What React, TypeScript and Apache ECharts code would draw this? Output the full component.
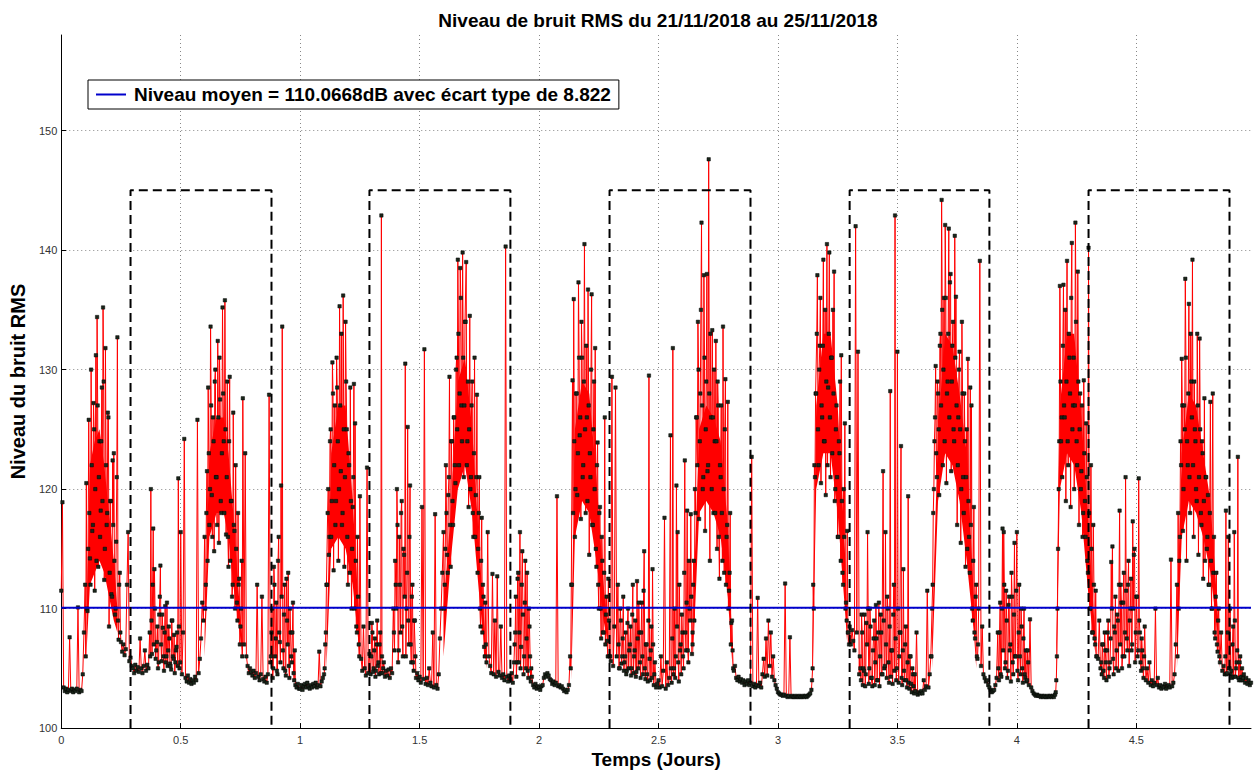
import React, { useEffect, useRef } from "react";
import * as echarts from "echarts";

// Sampling step (days) and RMS levels (dB), one array per day
const STEP = 0.005;
const day0 = [
  111.5, 118.9, 103.4, 103.1, 103.3, 103.0, 103.2, 107.6, 103.1, 103.3,
  103.0, 103.2, 103.1, 103.3, 110.1, 103.0, 103.2, 103.1, 104.5, 108.0,
  112.0, 120.5, 109.8, 125.8, 114.2, 130.0, 116.5, 127.2, 111.5, 131.2,
  134.4, 113.5, 124.0, 118.2, 128.5, 135.2, 112.4, 131.8, 117.0, 126.4,
  108.5, 119.0, 111.2, 122.4, 123.0, 109.5, 115.6, 132.7, 107.4, 113.0,
  107.2, 106.4, 107.0, 106.1, 106.6, 112.0, 116.4, 105.6, 105.9, 105.2,
  105.0, 104.6, 105.3, 104.8, 105.1, 104.7, 107.5, 105.0, 104.6, 105.2,
  106.5, 104.8, 105.3, 105.0, 108.0, 120.0, 106.2, 116.7, 113.3, 105.8,
  107.2, 105.0, 109.5, 113.6, 105.6, 108.4, 104.8, 110.2, 106.0, 105.2,
  108.5, 105.4, 104.9, 109.0, 105.8, 104.6, 106.5, 108.0, 120.9, 105.0,
  116.4, 104.5, 108.0, 124.2, 104.2, 103.9, 104.4, 103.8, 104.1, 103.7,
  104.0, 103.8, 104.3, 104.0, 125.8, 104.6, 105.8, 107.5, 110.5, 109.0,
  116.0, 112.0, 121.5, 128.5, 117.0, 133.6, 119.5, 126.0, 114.8, 130.0,
  121.0, 132.4, 115.5, 127.5, 118.0, 135.2, 124.0, 135.8, 116.2, 129.0,
  113.5, 129.4, 119.0, 111.0, 126.4, 116.5, 122.0, 110.5, 118.0, 112.5,
  108.5, 114.0, 127.6, 107.0, 123.0, 106.0, 105.2, 104.6, 105.0, 104.7,
  104.4, 104.8, 104.2, 104.6, 112.0, 104.3, 104.0, 104.5, 111.0, 104.1,
  103.9, 104.3, 103.8, 104.5, 127.9, 105.5, 108.0, 104.2, 113.5, 106.0,
  110.5, 104.5, 116.0, 107.2, 120.3, 133.6, 105.0, 112.0, 104.4, 109.0,
  113.0, 104.2, 108.0, 105.5, 110.5, 104.0, 103.6, 103.4, 103.7, 103.3,
];
const day1 = [
  103.3, 103.6, 103.2, 103.5, 103.7, 103.4, 103.8, 103.5, 103.3, 103.6,
  103.4, 103.7, 103.5, 103.8, 103.4, 103.6, 106.4, 103.5, 103.9, 104.2,
  104.5, 107.0, 112.0, 118.0, 114.5, 124.0, 116.0, 130.6, 113.2, 127.0,
  119.0, 128.5, 114.0, 135.3, 121.5, 117.0, 136.2, 113.5, 134.0, 125.0,
  112.0, 122.0, 128.5, 110.0, 118.5, 128.8, 125.5, 108.5, 116.0, 107.0,
  119.4, 105.8, 104.8, 108.5, 105.0, 104.4, 121.8, 104.6, 106.2, 104.5,
  108.8, 104.7, 106.5, 104.3, 107.0, 105.2, 104.5, 108.0, 142.9, 104.6,
  105.5, 104.3, 104.8, 104.4, 104.9, 104.2, 105.0, 104.6, 110.0, 106.5,
  112.0, 120.0, 105.5, 116.0, 108.0, 119.0, 106.0, 114.5, 130.5, 110.0,
  125.2, 107.0, 120.3, 105.5, 112.0, 104.8, 109.0, 104.2, 104.6, 104.0,
  104.3, 103.8, 118.5, 104.1, 131.7, 103.7, 104.2, 103.6, 105.0, 103.8,
  103.5, 108.0, 103.4, 117.9, 103.6, 103.3, 104.5, 107.5, 110.0, 113.0,
  116.4, 112.0, 122.0, 114.5, 119.5, 129.4, 113.5, 124.0, 117.0, 126.0,
  120.5, 131.0, 139.2, 122.0, 138.5, 127.0, 139.8, 121.0, 134.0, 139.0,
  124.0, 118.5, 134.5, 121.0, 129.0, 116.0, 131.0, 119.5, 127.9, 115.0,
  121.0, 108.5, 117.6, 112.0, 106.8, 110.5, 105.5, 116.4, 106.0, 105.2,
  104.6, 112.9, 104.5, 109.0, 104.3, 112.7, 104.7, 104.4, 108.5, 104.2,
  104.5, 104.0, 140.3, 104.3, 103.9, 104.4, 104.1, 104.6, 103.8, 105.5,
  108.0, 104.3, 112.5, 105.5, 116.4, 106.8, 114.8, 104.5, 110.5, 105.0,
  113.0, 104.2, 108.5, 103.9, 104.3, 103.6, 103.4, 103.7, 103.3, 103.5,
];
const day2 = [
  103.4, 103.2, 103.5, 103.6, 104.2, 104.5, 104.3, 104.6, 104.4, 104.1,
  104.0, 103.7, 103.9, 103.6, 103.8, 119.4, 103.5, 103.6, 103.4, 103.5,
  103.3, 103.1, 103.2, 103.0, 103.2, 103.6, 106.0, 112.0, 129.1, 135.9,
  116.0, 128.0, 119.5, 137.3, 124.5, 117.5, 131.0, 122.0, 140.5, 118.0,
  126.0, 136.7, 114.5, 121.0, 136.3, 117.0, 129.0, 131.8, 113.5, 123.9,
  110.0, 118.5, 107.5, 114.0, 108.0, 126.0, 109.5, 107.3, 112.5, 106.0,
  105.6, 129.4, 105.2, 108.5, 128.5, 106.0, 112.0, 105.0, 110.0, 105.4,
  107.5, 104.8, 106.0, 104.5, 108.8, 105.0, 107.0, 104.4, 109.5, 104.6,
  106.5, 104.3, 112.3, 105.0, 108.0, 104.2, 110.5, 104.5, 114.8, 104.1,
  107.0, 103.9, 129.5, 104.0, 108.5, 113.3, 103.6, 105.5, 103.4, 103.7,
  104.0, 103.4, 106.0, 103.5, 104.8, 117.6, 103.3, 105.5, 103.6, 104.2,
  124.5, 103.8, 131.8, 105.0, 104.2, 120.3, 116.4, 103.9, 106.5, 104.5,
  108.0, 105.0, 122.4, 106.5, 118.2, 105.5, 110.0, 117.9, 106.2, 112.0,
  109.0, 118.0, 126.0, 134.0, 117.5, 128.0, 142.3, 120.0, 137.9, 116.5,
  129.0, 121.5, 147.6, 114.0, 126.0, 133.3, 118.0, 124.0, 132.4, 115.0,
  127.0, 112.5, 121.0, 118.0, 133.6, 113.0, 129.2, 116.0, 127.3, 111.5,
  118.0, 108.8, 106.5, 104.8, 105.2, 104.2, 104.0, 104.3, 103.9, 104.1,
  103.8, 104.0, 103.6, 103.9, 103.7, 104.0, 103.6, 103.8, 122.7, 103.5,
  103.7, 103.4, 103.6, 110.9, 103.5, 103.8, 103.4, 104.5, 105.8, 104.3,
  107.5, 104.4, 109.0, 105.2, 108.0, 104.3, 106.0, 104.0, 103.6, 103.3,
];
const day3 = [
  103.0, 102.9, 102.8, 102.8, 102.7, 102.8, 112.1, 102.7, 102.6, 102.7,
  107.6, 102.6, 102.7, 102.6, 102.6, 102.7, 102.6, 102.6, 102.7, 102.6,
  102.6, 102.7, 102.6, 102.7, 102.6, 102.7, 102.8, 102.9, 103.2, 105.0,
  110.0, 121.0, 128.0, 137.9, 122.0, 132.0, 120.5, 126.0, 139.2, 124.0,
  119.5, 140.5, 128.5, 139.8, 121.0, 131.0, 135.0, 138.2, 120.0, 127.0,
  116.0, 124.0, 129.0, 131.2, 113.0, 120.0, 125.5, 110.5, 116.5, 108.0,
  108.5, 107.0, 108.2, 107.3, 106.5, 142.0, 108.0, 131.5, 104.5, 105.0,
  109.5, 103.6, 104.8, 103.5, 108.8, 116.4, 103.7, 110.0, 104.2, 103.5,
  107.5, 103.6, 110.3, 104.0, 108.0, 103.5, 109.5, 104.5, 121.5, 105.0,
  116.4, 104.2, 110.0, 103.8, 128.2, 106.5, 103.7, 112.0, 142.9, 104.0,
  131.5, 103.8, 108.0, 123.6, 103.6, 113.3, 104.0, 108.5, 103.4, 119.4,
  103.3, 106.0, 103.0, 104.5, 102.9, 103.1, 108.0, 102.8, 103.0, 102.9,
  103.1, 102.9, 104.0, 103.2, 103.5, 111.5, 103.4, 104.5, 106.0, 110.0,
  118.0, 124.0, 130.3, 121.0, 128.0, 119.5, 133.0, 144.2, 122.0, 136.0,
  142.1, 120.5, 129.0, 141.8, 137.3, 121.5, 132.0, 125.0, 141.2, 136.1,
  117.0, 126.0, 131.5, 115.5, 134.0, 121.0, 128.0, 113.5, 125.0, 130.9,
  116.0, 128.5, 127.0, 109.0, 118.5, 107.5, 112.0, 105.8, 110.0, 139.1,
  105.2, 108.5, 104.5, 104.2, 103.9, 104.0, 103.6, 103.4, 103.2, 103.0,
  103.1, 103.2, 103.6, 104.2, 108.0, 104.0, 110.5, 104.3, 116.7, 116.4,
  105.0, 111.5, 104.2, 110.3, 106.5, 103.9, 111.0, 104.5, 115.5, 106.0,
];
const day4 = [
  116.4, 104.0, 112.0, 104.5, 108.5, 103.8, 110.0, 104.2, 103.9, 106.5,
  103.6, 109.1, 103.4, 103.1, 102.9, 102.8, 102.7, 102.8, 102.7, 102.7,
  102.6, 102.7, 102.6, 102.7, 102.6, 102.6, 102.7, 102.6, 102.7, 102.6,
  102.7, 102.6, 102.8, 104.0, 110.0, 120.0, 137.0, 124.0, 121.0, 137.1,
  126.0, 119.0, 139.1, 122.0, 131.0, 118.5, 140.6, 127.0, 120.0, 142.3,
  124.0, 138.2, 117.0, 128.0, 121.5, 116.0, 129.1, 119.0, 125.5, 114.0,
  140.2, 110.0, 122.0, 108.0, 117.0, 107.5, 111.5, 106.0, 105.8, 109.0,
  105.0, 104.5, 107.0, 104.2, 106.5, 104.0, 108.0, 104.3, 105.5, 113.9,
  115.2, 104.5, 108.0, 105.0, 109.5, 104.8, 118.2, 112.0, 105.0, 110.5,
  106.0, 121.0, 107.5, 112.0, 105.2, 110.0, 106.5, 117.3, 114.5, 105.5,
  111.0, 106.0, 120.9, 108.0, 104.8, 106.5, 104.2, 108.5, 104.0, 105.0,
  103.8, 105.5, 103.6, 104.0, 103.5, 103.8, 110.0, 103.6, 104.2, 103.4,
  103.6, 103.3, 103.5, 103.4, 103.7, 103.3, 103.5, 103.6, 103.4, 114.1,
  103.5, 103.8, 104.5, 107.0, 112.0, 118.0, 114.0, 124.0, 130.9, 116.5,
  127.0, 137.6, 114.0, 122.0, 135.5, 118.0, 129.0, 139.2, 116.0, 125.0,
  120.0, 133.0, 114.5, 132.6, 118.0, 124.0, 112.5, 127.6, 121.0, 115.0,
  119.5, 112.0, 127.3, 110.0, 128.0, 116.0, 107.5, 113.0, 106.4, 110.0,
  105.5, 108.0, 104.8, 105.2, 104.5, 118.2, 104.6, 116.0, 105.0, 104.5,
  104.2, 108.5, 116.4, 104.3, 105.5, 122.7, 104.0, 106.0, 104.3, 104.0,
  104.5, 103.8, 104.2, 103.7, 104.0, 103.6, 103.8,
];
const days = [day0, day1, day2, day3, day4];

// Extra in-between samples inside the ten busy periods (start x, same step)
const burstStart = [0.1025, 0.6025, 1.1025, 1.6025, 2.1325, 2.6425, 3.1425, 3.6425, 4.1625, 4.6725];
const burstA = [106, 110, 115, 118, 112, 122, 117, 125, 120, 114, 127, 121, 116, 124, 119, 129, 115, 122, 118, 126, 113, 119, 111, 117, 114, 110, 121, 109, 112, 108];
const burstB = [110, 118, 114, 123, 120, 127, 116, 124, 129, 121, 117, 126, 131, 119, 123, 128, 118, 125, 121, 116, 124, 114, 119, 112, 117, 110, 115, 109, 112, 107, 110, 106];
const burstC = [105, 108, 112, 120, 116, 125, 119, 128, 122, 117, 131, 124, 120, 127, 133, 118, 125, 121, 129, 116, 123, 113, 119, 115, 121, 110, 114, 108, 111, 106];
const burstD = [110, 115, 118, 113, 121, 117, 124, 119, 126, 122, 130, 125, 133, 128, 136, 124, 131, 127, 134, 122, 129, 125, 120, 127, 118, 123, 116, 121, 113, 118, 110, 114, 108, 111, 106, 107];
const burstE = [105, 112, 118, 124, 120, 128, 123, 131, 126, 134, 121, 129, 125, 132, 119, 127, 123, 130, 117, 125, 120, 115, 122, 112, 118, 110, 116, 108, 113, 107, 111, 106, 109, 106];
const burstF = [108, 114, 120, 126, 122, 130, 124, 135, 127, 121, 131, 125, 138, 122, 128, 133, 120, 126, 130, 118, 124, 129, 116, 122, 127, 114, 120, 125, 112, 117, 110, 113, 107, 109, 105];
const burstG = [104, 112, 122, 128, 133, 125, 130, 136, 127, 132, 124, 135, 129, 122, 133, 126, 131, 123, 128, 119, 125, 121, 116, 123, 114, 119, 112, 116, 110, 109, 108, 107];
const burstH = [106, 112, 120, 126, 123, 129, 125, 132, 127, 135, 130, 124, 136, 128, 133, 126, 138, 129, 134, 124, 131, 127, 122, 130, 125, 120, 128, 118, 124, 121, 115, 119, 113, 117, 110, 114, 108, 111, 106, 107];
const burstI = [103, 106, 115, 124, 129, 126, 132, 127, 135, 129, 124, 133, 128, 136, 125, 131, 127, 134, 122, 129, 125, 120, 127, 118, 123, 116, 121, 113, 118, 110, 115, 108, 112, 107, 106];
const burstJ = [106, 110, 116, 122, 127, 120, 125, 131, 124, 128, 121, 133, 126, 122, 129, 124, 119, 127, 121, 125, 117, 123, 119, 114, 121, 116, 112, 118, 114, 110, 113, 108, 111, 107, 109, 106];
const bursts = [burstA, burstB, burstC, burstD, burstE, burstF, burstG, burstH, burstI, burstJ];

// Extra in-between samples inside the quieter noisy clusters
const clusterStart = [0.3725, 0.8775, 1.2975, 1.3925, 1.8975, 2.3325, 2.5525, 3.3425, 3.9225, 4.3525, 4.8725];
const cluster1 = [106, 109, 112, 107, 110, 106.5, 108.5, 105.5, 111, 107, 109.5, 106, 108, 105.5, 110.5, 106.5, 107.5, 105.2, 109, 106, 107.8, 105.5, 106.8, 105.2, 108.5, 105.5];
const cluster2 = [106, 110, 105, 112, 107.5, 104.8, 114, 108, 105.5, 111, 106.5, 109.5, 104.8, 112.5, 107, 105.2, 110, 106, 108, 104.6, 106.5];
const cluster3 = [106, 108, 105, 107.5, 104.8, 109, 105.5, 107, 104.6, 106, 105];
const cluster4 = [108, 114, 110, 117, 106.5, 112, 118, 108.5, 115, 111, 106, 113, 109, 116, 107, 111, 105.5, 109, 106];
const cluster5 = [107, 111, 105.5, 113, 108, 105, 112, 109.5, 106, 114, 107.5, 104.8, 110, 106, 105];
const cluster6 = [107, 105, 109, 106, 111, 105.5, 108, 104.8, 110, 106.5, 108.5, 105, 112, 106, 109, 104.7, 107.5, 110.5, 105.5, 108, 106, 111.5, 105, 107, 104.5, 109, 105.8, 106.5, 104.2, 107, 104.5];
const cluster7 = [105, 107.5, 104.5, 110, 106, 108.5, 105.5, 112, 107, 109.5, 106, 113, 108, 110.5, 106.5, 114, 109, 111, 107];
const cluster8 = [106, 104, 108, 105, 109.5, 104.5, 107, 110, 105, 108.5, 104.2, 106.5, 109, 105.5, 107.5, 104, 110.5, 106, 108, 104.5, 109, 105.2, 107, 111, 105.5, 108.5, 104.3, 106.5, 109.5, 104.8, 107.5, 105, 110, 106, 108, 104.2, 106.5, 104.8, 107, 104, 105.5, 103.8, 106, 103.7, 105, 103.5, 104.5];
const cluster9 = [105, 108, 104.5, 110, 106.5, 112, 105.5, 109, 104.8, 111, 107, 113, 105.5, 109.5, 106, 111.5, 104.8, 108, 106, 110, 105, 107.5, 104.5, 106.5, 104, 105.5];
const cluster10 = [105.5, 107, 104.8, 108, 105.5, 106.5, 109, 105, 107.5, 110, 105.8, 108.5, 111, 106.5, 109, 112, 107, 110.5, 106, 113, 108, 111.5, 106.5, 114, 109, 112.5, 107, 110, 115, 108, 111, 106.5, 109, 105.5, 107.5, 105, 106];
const cluster11 = [106, 104.5, 108, 105, 110, 104.8, 107, 104.3, 109, 105, 106.5, 104.2, 105.5, 104, 105, 104.2];
const clusters = [cluster1, cluster2, cluster3, cluster4, cluster5, cluster6, cluster7, cluster8, cluster9, cluster10, cluster11];

// Dense cores of the busy periods: x positions, upper and lower edges (dB)
const coreX = [
  [0.105, 0.12, 0.14, 0.16, 0.18, 0.2, 0.22, 0.235],
  [0.6, 0.62, 0.65, 0.68, 0.7, 0.72, 0.74, 0.76],
  [1.11, 1.13, 1.16, 1.19, 1.22, 1.25],
  [1.6, 1.63, 1.66, 1.69, 1.72, 1.75, 1.78],
  [2.135, 2.15, 2.18, 2.21, 2.24, 2.27, 2.29],
  [2.645, 2.67, 2.7, 2.73, 2.76, 2.79, 2.81],
  [3.145, 3.16, 3.19, 3.22, 3.25, 3.28, 3.29],
  [3.645, 3.67, 3.7, 3.73, 3.76, 3.79, 3.82, 3.83],
  [4.165, 4.18, 4.21, 4.24, 4.27, 4.3, 4.33],
  [4.67, 4.69, 4.72, 4.75, 4.78, 4.81, 4.84, 4.85],
];
const coreHigh = [
  [108, 122, 124, 125, 122, 118, 114, 110],
  [108, 123, 126, 126, 123, 118, 112, 107],
  [107, 123, 127, 127, 119, 108],
  [110, 118, 129, 131, 125, 115, 106],
  [107, 125, 129, 128, 121, 112, 108],
  [110, 125, 127, 126, 124, 117, 106],
  [107, 127, 133, 133, 127, 115, 108],
  [108, 125, 133, 132, 128, 123, 111, 106],
  [107, 127, 133, 133, 126, 117, 107],
  [108, 123, 128, 127, 123, 119, 110, 106],
];
const coreLow = [
  [106, 112, 113, 114, 113, 111, 109, 108],
  [106, 116, 118, 118, 116, 112, 109, 106],
  [105, 115, 116, 115, 112, 106],
  [106, 114, 120, 122, 118, 111, 105],
  [104, 116, 119, 118, 114, 109, 107],
  [106, 118, 119, 118, 116, 111, 105],
  [104, 120, 123, 123, 118, 110, 107],
  [105, 119, 123, 122, 119, 114, 108, 105],
  [104, 120, 123, 122, 118, 111, 106],
  [105, 116, 119, 118, 116, 113, 108, 105],
];

const MEAN_LEVEL = 110.0668;
const STD_DEV = 8.822;
const X_MAX = 4.98;
const Y_MIN = 100;
const Y_MAX = 158;

// Dashed rectangles (daytime windows)
const rectLeft = [0.29, 1.29, 2.295, 3.3, 4.3];
const rectRight = [0.88, 1.88, 2.885, 3.885, 4.89];
const rectTop = 145;

const TITLE = "Niveau de bruit RMS du 21/11/2018 au 25/11/2018";
const LEGEND_NAME = `Niveau moyen = ${MEAN_LEVEL}dB avec écart type de ${STD_DEV}`;
const X_NAME = "Temps (Jours)";
const Y_NAME = "Niveau du bruit RMS";

const FONT = "'Liberation Sans', Arial, Helvetica, sans-serif";

export default function App() {
  const ref = useRef<HTMLDivElement>(null);

  useEffect(() => {
    if (!ref.current) return;
    const chart = echarts.init(ref.current, null, { renderer: "svg" });

    const rmsData: number[][] = [];
    days.forEach((arr, d) => {
      arr.forEach((v, i) => {
        rmsData.push([Number((d + i * STEP).toFixed(4)), v]);
      });
    });
    bursts.forEach((arr, k) => {
      arr.forEach((v, i) => {
        rmsData.push([Number((burstStart[k] + i * STEP).toFixed(4)), v]);
      });
    });
    clusters.forEach((arr, k) => {
      arr.forEach((v, i) => {
        rmsData.push([Number((clusterStart[k] + i * STEP).toFixed(4)), v]);
      });
    });
    rmsData.sort((a, b) => a[0] - b[0]);

    const rectData: (number[] | null)[] = [];
    rectLeft.forEach((l, k) => {
      const r = rectRight[k];
      rectData.push([l, Y_MIN], [l, rectTop], [r, rectTop], [r, Y_MIN], null);
    });

    const coreData = coreX.map((xs, k) => [xs[0], coreLow[k][0], k]);

    const isMult = (v: number, step: number) =>
      Math.abs(v / step - Math.round(v / step)) < 1e-6;

    chart.setOption({
      animation: false,
      backgroundColor: "#fff",
      title: {
        text: TITLE,
        left: 653,
        top: 6,
        textAlign: "center",
        textStyle: { fontFamily: FONT, fontSize: 19, fontWeight: "bold", color: "#000" },
      },
      legend: {
        data: [{ name: LEGEND_NAME, icon: "rect" }],
        left: 88,
        top: 80,
        itemWidth: 30,
        itemHeight: 2,
        selectedMode: false,
        backgroundColor: "#fff",
        borderColor: "#000",
        borderWidth: 1,
        borderRadius: 0,
        padding: [5, 8, 5, 8],
        textStyle: {
          fontFamily: FONT,
          fontSize: 19,
          fontWeight: "bold",
          color: "#000",
          padding: [0, 0, 0, 3],
        },
      },
      grid: { left: 56, right: 8, top: 35, bottom: 43, containLabel: false },
      xAxis: {
        type: "value",
        min: 0,
        max: X_MAX,
        interval: 0.5,
        name: X_NAME,
        nameLocation: "middle",
        nameGap: 21,
        nameTextStyle: { fontFamily: FONT, fontSize: 19, fontWeight: "bold", color: "#000" },
        axisLine: { show: true, onZero: false, lineStyle: { color: "#000", width: 1 } },
        axisTick: { show: true, inside: true, length: 5, lineStyle: { color: "#000" } },
        axisLabel: {
          fontFamily: FONT,
          fontSize: 11,
          color: "#333",
          margin: 6,
          showMaxLabel: false,
          formatter: (v: number) => (isMult(v, 0.5) ? String(Math.round(v * 10) / 10) : ""),
        },
        splitLine: {
          show: true,
          showMinLine: false,
          showMaxLine: false,
          lineStyle: { type: [1, 3], color: "#888", width: 1 },
        },
      },
      yAxis: {
        type: "value",
        min: Y_MIN,
        max: Y_MAX,
        interval: 10,
        name: Y_NAME,
        nameLocation: "middle",
        nameGap: 29,
        nameTextStyle: { fontFamily: FONT, fontSize: 20, fontWeight: "bold", color: "#000" },
        axisLine: { show: true, onZero: false, lineStyle: { color: "#000", width: 1 } },
        axisTick: { show: true, inside: true, length: 5, lineStyle: { color: "#000" } },
        axisLabel: {
          fontFamily: FONT,
          fontSize: 11,
          color: "#333",
          margin: 4,
          showMaxLabel: false,
          formatter: (v: number) => (isMult(v, 10) ? String(v) : ""),
        },
        splitLine: {
          show: true,
          showMinLine: false,
          showMaxLine: false,
          lineStyle: { type: [1, 3], color: "#888", width: 1 },
        },
      },
      series: [
        {
          name: "core",
          type: "custom",
          data: coreData,
          encode: { x: 0, y: 1 },
          z: 1,
          silent: true,
          renderItem: (params: any, api: any) => {
            const k = params.dataIndex;
            const xs = coreX[k];
            const pts: number[][] = [];
            for (let i = 0; i < xs.length; i++) pts.push(api.coord([xs[i], coreHigh[k][i]]));
            for (let i = xs.length - 1; i >= 0; i--) pts.push(api.coord([xs[i], coreLow[k][i]]));
            return {
              type: "polygon",
              shape: { points: pts },
              style: { fill: "#ff0000" },
            };
          },
        },
        {
          name: "RMS",
          type: "line",
          data: rmsData,
          z: 2,
          symbol: "rect",
          symbolSize: 3.4,
          showSymbol: true,
          showAllSymbol: true,
          lineStyle: { color: "#ff0000", width: 1 },
          itemStyle: { color: "#1a261a", borderColor: "#000", borderWidth: 0.5 },
          emphasis: { disabled: true },
        },
        {
          name: LEGEND_NAME,
          type: "line",
          data: [
            [0, MEAN_LEVEL],
            [X_MAX, MEAN_LEVEL],
          ],
          z: 3,
          symbol: "none",
          lineStyle: { color: "#0000cc", width: 2 },
          itemStyle: { color: "#0000cc" },
          emphasis: { disabled: true },
        },
        {
          name: "Fenêtres",
          type: "line",
          data: rectData,
          z: 4,
          symbol: "none",
          connectNulls: false,
          lineStyle: { color: "#000", width: 2, type: [9, 5] },
          itemStyle: { color: "#000" },
          emphasis: { disabled: true },
        },
      ],
    });

    return () => chart.dispose();
  }, []);

  return (
    <div
      ref={ref}
      style={{ position: "absolute", left: 0, top: 0, width: 1259, height: 774 }}
    />
  );
}
